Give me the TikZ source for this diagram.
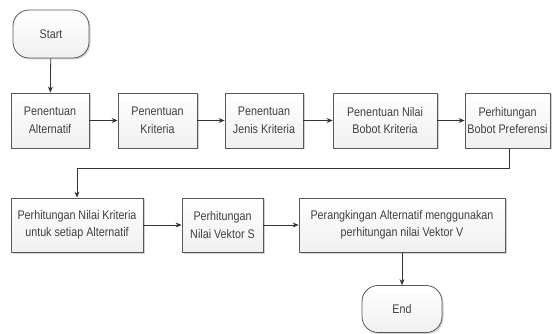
\documentclass[tikz,border=0pt]{standalone}
\usepackage{fontspec}
\setmainfont{Liberation Sans}[FakeStretch=0.86]
\usetikzlibrary{shadows,arrows.meta}
\begin{document}
\begin{tikzpicture}[x=1pt,y=-1pt,
  box/.style={draw=gray!70!black, line width=0.8pt,
    top color=white, bottom color=gray!12,
    drop shadow={shadow xshift=1.5pt, shadow yshift=-1.5pt, fill=gray!45, opacity=0.8},
    align=center, inner sep=1pt,
    font=\fontsize{12.5}{17.5}\selectfont, text=black!75},
  term/.style={box, rounded corners=16pt},
  flow/.style={draw=black!80, line width=0.8pt, -{Stealth[length=6pt,width=5pt]}}]
  \useasboundingbox (0,0) rectangle (552,334);

  % terminators
  \node[term, minimum width=76pt, minimum height=48pt] (start) at (51,34) {Start};
  \node[term, minimum width=80pt, minimum height=47pt] (end) at (402,309) {End};

  % first row of steps
  \node[box, minimum width=78pt, minimum height=55pt] (p1) at (50,120.5) {Penentuan\\Alternatif};
  \node[box, minimum width=79pt, minimum height=55pt] (p2) at (157.5,120.5) {Penentuan\\Kriteria};
  \node[box, minimum width=78pt, minimum height=55pt] (p3) at (264,120.5) {Penentuan\\Jenis Kriteria};
  \node[box, minimum width=104pt, minimum height=55pt] (p4) at (385,120.5) {Penentuan Nilai\\Bobot Kriteria};
  \node[box, minimum width=85pt, minimum height=55pt] (p5) at (507.5,120.5) {Perhitungan\\Bobot Preferensi};

  % second row of steps
  \node[box, minimum width=132pt, minimum height=54pt] (q1) at (77,225) {Perhitungan Nilai Kriteria\\untuk setiap Alternatif};
  \node[box, minimum width=81pt, minimum height=54pt] (q2) at (222.5,225) {Perhitungan\\Nilai Vektor S};
  \node[box, minimum width=206pt, minimum height=54pt] (q3) at (402,225) {Perangkingan Alternatif menggunakan\\perhitungan nilai Vektor V};

  % connectors
  \draw[flow] (start) -- (p1);
  \draw[flow] (p1) -- (p2);
  \draw[flow] (p2) -- (p3);
  \draw[flow] (p3) -- (p4);
  \draw[flow] (p4) -- (p5);
  \coordinate (turn) at (509,168);
  \draw[flow] (p5.south -| turn) -- (turn) -| (q1.north);
  \draw[flow] (q1) -- (q2);
  \draw[flow] (q2) -- (q3);
  \draw[flow] (q3) -- (end);
\end{tikzpicture}
\end{document}
